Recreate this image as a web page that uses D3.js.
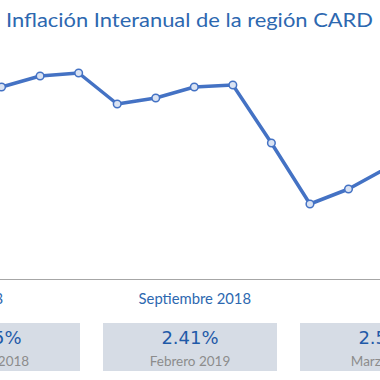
<!DOCTYPE html>
<html>
<head>
<meta charset="utf-8">
<script src="https://cdn.jsdelivr.net/npm/d3@7"></script>
<style>
  html, body { margin: 0; padding: 0; background: #fff; }
  svg { display: block; font-family: Lato, "Open Sans", sans-serif; }
</style>
</head>
<body>
<svg id="chart" width="380" height="380"></svg>
<script>
const svg = d3.select("#chart");

const title = "Inflación Interanual de la región CARD";

// monthly year-on-year inflation, Mar 2018 .. Mar 2019
const months = [
  "Marzo 2018", "Abril 2018", "Mayo 2018", "Junio 2018", "Julio 2018",
  "Agosto 2018", "Septiembre 2018", "Octubre 2018", "Noviembre 2018",
  "Diciembre 2018", "Enero 2019", "Febrero 2019", "Marzo 2019"
];
const inflation = [3.05, 3.22, 3.33, 3.36, 3.05, 3.11, 3.22, 3.24, 2.66, 2.05, 2.20, 2.41, 2.55];

const tickLabels = ["Marzo 2018", "Septiembre 2018", "Marzo 2019"];

const boxValues = ["3.05%", "2.41%", "2.55%"];
const boxLabels = ["Marzo 2018", "Febrero 2019", "Marzo 2019"];

const blue = "#2d68b0";
const lineBlue = "#4472c4";

const x = d3.scalePoint()
  .domain(months)
  .range([-37, 425.6]);

const y = d3.scaleLinear()
  .domain([1.5, 3.5])
  .range([259, 59]);

// title
svg.append("text")
  .attr("x", 6)
  .attr("y", 27)
  .attr("fill", blue)
  .attr("font-size", 19.5)
  .attr("textLength", 367)
  .attr("lengthAdjust", "spacingAndGlyphs")
  .text(title);

// line
const line = d3.line()
  .x((d, i) => x(months[i]))
  .y(d => y(d));

svg.append("path")
  .datum(inflation)
  .attr("fill", "none")
  .attr("stroke", lineBlue)
  .attr("stroke-width", 3.5)
  .attr("stroke-linejoin", "round")
  .attr("d", line);

svg.selectAll("circle.pt")
  .data(inflation)
  .join("circle")
  .attr("class", "pt")
  .attr("cx", (d, i) => x(months[i]))
  .attr("cy", d => y(d))
  .attr("r", 3.8)
  .attr("fill", "#dae3f3")
  .attr("stroke", lineBlue)
  .attr("stroke-width", 1.5);

// x axis
const axis = svg.append("g")
  .attr("transform", "translate(0,279)")
  .call(d3.axisBottom(x).tickValues(tickLabels).tickSize(0).tickPadding(14));

axis.select(".domain")
  .attr("stroke", "#a6a6a6")
  .attr("stroke-width", 1.2);

axis.selectAll("text")
  .attr("fill", blue)
  .attr("font-size", 14.8)
  .attr("font-family", "Lato, 'Open Sans', sans-serif");

// summary boxes
const band = d3.scaleBand()
  .domain(boxLabels)
  .range([-105.5, 485.5])
  .paddingInner(23 / 197)
  .paddingOuter(23 / 394);

const boxes = svg.selectAll("g.box")
  .data(boxLabels)
  .join("g")
  .attr("class", "box")
  .attr("transform", d => `translate(${band(d)},323)`);

boxes.append("rect")
  .attr("width", band.bandwidth())
  .attr("height", 48)
  .attr("fill", "#d6dce5");

boxes.append("text")
  .attr("x", band.bandwidth() / 2)
  .attr("y", 21)
  .attr("text-anchor", "middle")
  .attr("fill", "#1f5aa8")
  .attr("font-size", 18)
  .attr("font-family", "'DejaVu Sans', sans-serif")
  .text((d, i) => boxValues[i]);

boxes.append("text")
  .attr("x", band.bandwidth() / 2)
  .attr("y", 43)
  .attr("text-anchor", "middle")
  .attr("fill", "#8c8c8c")
  .attr("font-size", 13.5)
  .text(d => d);
</script>
</body>
</html>
